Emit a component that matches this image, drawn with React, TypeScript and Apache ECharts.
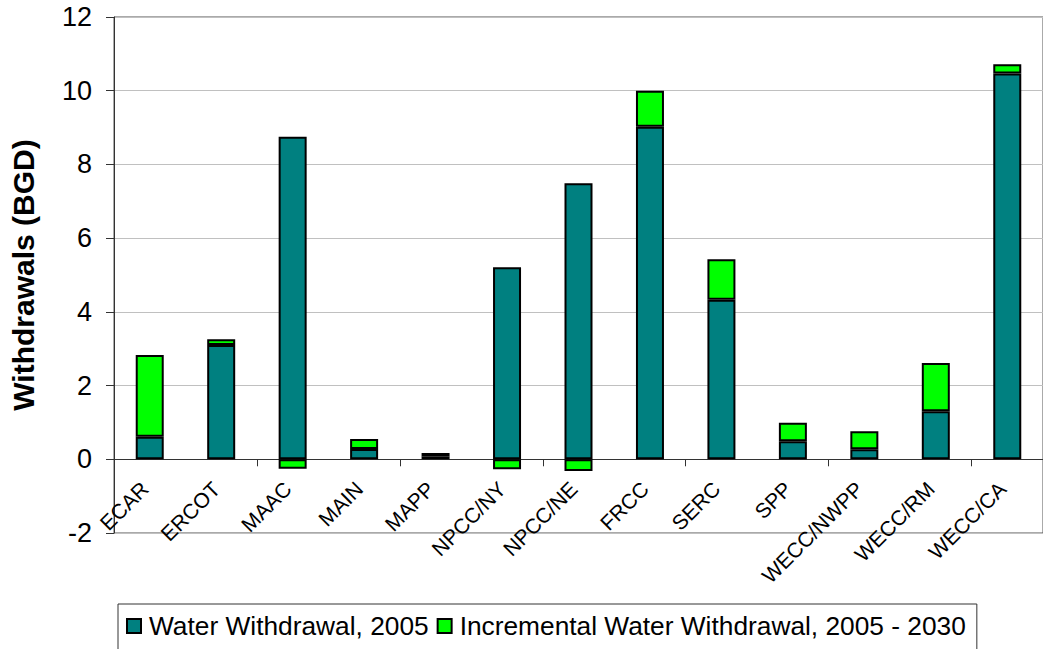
import React, { useEffect, useRef } from "react";
import * as echarts from "echarts";

const categories = [
  "ECAR", "ERCOT", "MAAC", "MAIN", "MAPP", "NPCC/NY", "NPCC/NE",
  "FRCC", "SERC", "SPP", "WECC/NWPP", "WECC/RM", "WECC/CA",
];
const withdrawal2005 = [0.61, 3.1, 8.75, 0.28, 0.07, 5.21, 7.49, 9.02, 4.33, 0.49, 0.27, 1.3, 10.47];
const incremental = [2.22, 0.16, -0.26, 0.27, 0.1, -0.27, -0.32, 0.98, 1.1, 0.5, 0.49, 1.31, 0.25];
const seriesNames = ["Water Withdrawal, 2005", "Incremental Water Withdrawal, 2005 - 2030"];
const yTitle = "Withdrawals (BGD)";

const FONT = 'Arial, "Liberation Sans", Helvetica, sans-serif';

export default function App() {
  const ref = useRef<HTMLDivElement>(null);
  useEffect(() => {
    if (!ref.current) return;
    const chart = echarts.init(ref.current, null, { renderer: "svg" });
    chart.setOption({
      animation: false,
      backgroundColor: "#ffffff",
      textStyle: { fontFamily: FONT },
      grid: {
        left: 114,
        top: 17,
        width: 940,
        height: 516,
        show: true,
        borderColor: "#555555",
        borderWidth: 1,
      },
      legend: {
        left: 118,
        top: 604,
        orient: "horizontal",
        itemWidth: 14,
        itemHeight: 14,
        itemGap: 8,
        padding: [9, 11, 40, 8],
        borderColor: "#333333",
        borderWidth: 1,
        icon: "rect",
        textStyle: { fontSize: 26.3, color: "#000", fontFamily: FONT, padding: [0, 0, 0, 3] },
        data: seriesNames,
      },
      xAxis: {
        type: "category",
        data: categories,
        axisLine: { onZero: true, lineStyle: { color: "#333333", width: 1 } },
        axisTick: { show: true, length: 7, lineStyle: { color: "#333333" } },
        axisLabel: { show: false },
        splitLine: { show: false },
      },
      yAxis: {
        type: "value",
        min: -2,
        max: 12,
        interval: 2,
        name: yTitle,
        nameLocation: "middle",
        nameGap: 76,
        nameTextStyle: { fontSize: 30, fontWeight: "bold", color: "#000", fontFamily: FONT },
        axisLine: { show: true, lineStyle: { color: "#333333" } },
        axisTick: { show: true, length: 8, lineStyle: { color: "#333333" } },
        axisLabel: { fontSize: 27, color: "#000", margin: 22, fontFamily: FONT },
        splitLine: { show: true, lineStyle: { color: "#c0c0c0", width: 1 } },
      },
      series: [
        {
          name: seriesNames[0],
          type: "bar",
          stack: "total",
          barWidth: 28,
          data: withdrawal2005,
          itemStyle: { color: "#008080", borderColor: "#000", borderWidth: 2 },
        },
        {
          name: seriesNames[1],
          type: "bar",
          stack: "total",
          barWidth: 28,
          data: incremental,
          itemStyle: { color: "#00ff00", borderColor: "#000", borderWidth: 2 },
        },
        {
          name: "categoryLabels",
          type: "custom",
          silent: true,
          clip: false,
          data: categories.map((c, i) => [i, 0]),
          encode: { x: 0, y: 1 },
          renderItem: (params: any, api: any) => {
            const idx = api.value(0);
            const pt = api.coord([idx, 0]);
            return {
              type: "text",
              x: pt[0] - 5,
              y: pt[1] + 26,
              rotation: Math.PI / 4,
              style: {
                text: categories[idx],
                fontSize: 21,
                fontFamily: FONT,
                fill: "#000",
                align: "right",
                verticalAlign: "middle",
              },
            };
          },
        },
      ],
    });
    return () => chart.dispose();
  }, []);
  return (
    <div
      ref={ref}
      style={{ position: "absolute", left: 0, top: 0, width: 1043, height: 649 }}
    />
  );
}
